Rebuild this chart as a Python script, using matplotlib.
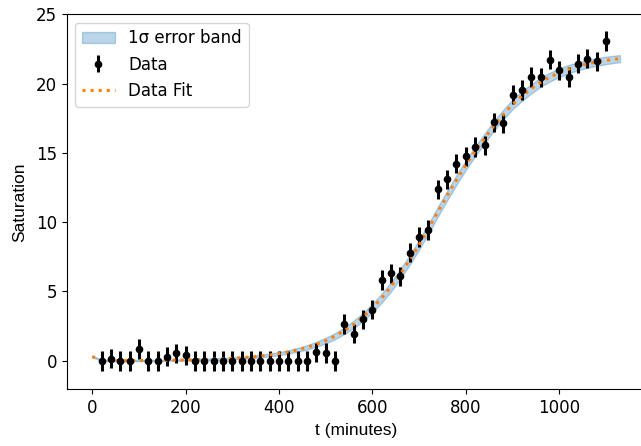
import matplotlib
matplotlib.use("Agg")
import matplotlib.pyplot as plt

# measured data points (every 20 minutes)
t_data = [20, 40, 60, 80, 100, 120, 140, 160, 180, 200,
          220, 240, 260, 280, 300, 320, 340, 360, 380, 400,
          420, 440, 460, 480, 500, 520, 540, 560, 580, 600,
          620, 640, 660, 680, 700, 720, 740, 760, 780, 800,
          820, 840, 860, 880, 900, 920, 940, 960, 980, 1000,
          1020, 1040, 1060, 1080, 1100]
sat_data = [0.0, 0.15, 0.0, 0.0, 0.84, 0.0, 0.0, 0.3, 0.53, 0.4,
            0.0, 0.0, 0.0, 0.0, 0.0, 0.0, 0.0, 0.0, 0.0, 0.0,
            0.0, 0.0, 0.0, 0.6, 0.55, 0.0, 2.65, 1.95, 2.98, 3.7,
            5.82, 6.3, 6.1, 7.8, 8.94, 9.45, 12.36, 13.1, 14.23, 14.76,
            15.43, 15.55, 17.2, 17.13, 19.2, 19.55, 20.48, 20.45, 21.73, 20.96,
            20.48, 21.44, 21.8, 21.6, 23.07]
sat_err = 0.7

# fitted curve
t_fit = [0, 20, 40, 60, 80, 100, 120, 140, 160, 180, 200,
         220, 240, 260, 280, 300, 320, 340, 360, 380, 400,
         420, 440, 460, 480, 500, 520, 540, 560, 580, 600,
         620, 640, 660, 680, 700, 720, 740, 760, 780, 800,
         820, 840, 860, 880, 900, 920, 940, 960, 980, 1000,
         1020, 1040, 1060, 1080, 1100, 1120, 1130]
sat_fit = [0.30, 0.06, 0.01, 0.01, 0.01, 0.02, 0.03, 0.03, 0.04, 0.05, 0.06,
           0.08, 0.09, 0.12, 0.14, 0.18, 0.22, 0.27, 0.34, 0.42, 0.52,
           0.64, 0.79, 0.97, 1.19, 1.46, 1.78, 2.17, 2.63, 3.17, 3.80,
           4.53, 5.35, 6.28, 7.29, 8.37, 9.52, 10.75, 11.92, 13.05, 14.12,
           15.12, 16.03, 16.95, 17.75, 18.5, 19.1, 19.62, 20.1, 20.47, 20.78,
           21.04, 21.25, 21.42, 21.56, 21.67, 21.76, 21.8]
sat_sigma = [0.05, 0.05, 0.05, 0.05, 0.05, 0.05, 0.05, 0.05, 0.05, 0.05, 0.05,
             0.06, 0.06, 0.06, 0.07, 0.07, 0.08, 0.08, 0.09, 0.10, 0.11,
             0.12, 0.14, 0.16, 0.18, 0.20, 0.22, 0.24, 0.27, 0.29, 0.31,
             0.33, 0.34, 0.35, 0.35, 0.35, 0.35, 0.35, 0.35, 0.35, 0.35,
             0.35, 0.35, 0.35, 0.35, 0.35, 0.35, 0.34, 0.33, 0.32, 0.31,
             0.30, 0.29, 0.28, 0.28, 0.27, 0.26, 0.26]

lo = [f - s for f, s in zip(sat_fit, sat_sigma)]
hi = [f + s for f, s in zip(sat_fit, sat_sigma)]

fs = 12
label_font = {"family": "Liberation Sans", "size": 12.5}

fig = plt.figure(figsize=(6.41, 4.46), dpi=100)
ax = fig.add_axes([0.104, 0.127, 0.904, 0.841])

band = ax.fill_between(t_fit, lo, hi, color="C0", alpha=0.3, label="1σ error band")
pts = ax.errorbar(t_data, sat_data, yerr=sat_err, fmt="o", color="k",
                  markersize=4.5, elinewidth=2.2, label="Data")
fit_line, = ax.plot(t_fit, sat_fit, ":", color="C1", linewidth=2.2, label="Data Fit")

ax.set_xlim(-54.6, 1186)
ax.set_ylim(-2.06, 25.0)
ax.set_xticks([0, 200, 400, 600, 800, 1000])
ax.set_yticks([0, 5, 10, 15, 20, 25])
ax.tick_params(labelsize=fs)
ax.set_xlabel("t (minutes)", fontdict=label_font)
ax.set_ylabel("Saturation", fontdict=label_font, labelpad=6)
ax.legend(handles=[band, pts, fit_line], loc="upper left", fontsize=fs)

fig.savefig("out.png", dpi=100)
